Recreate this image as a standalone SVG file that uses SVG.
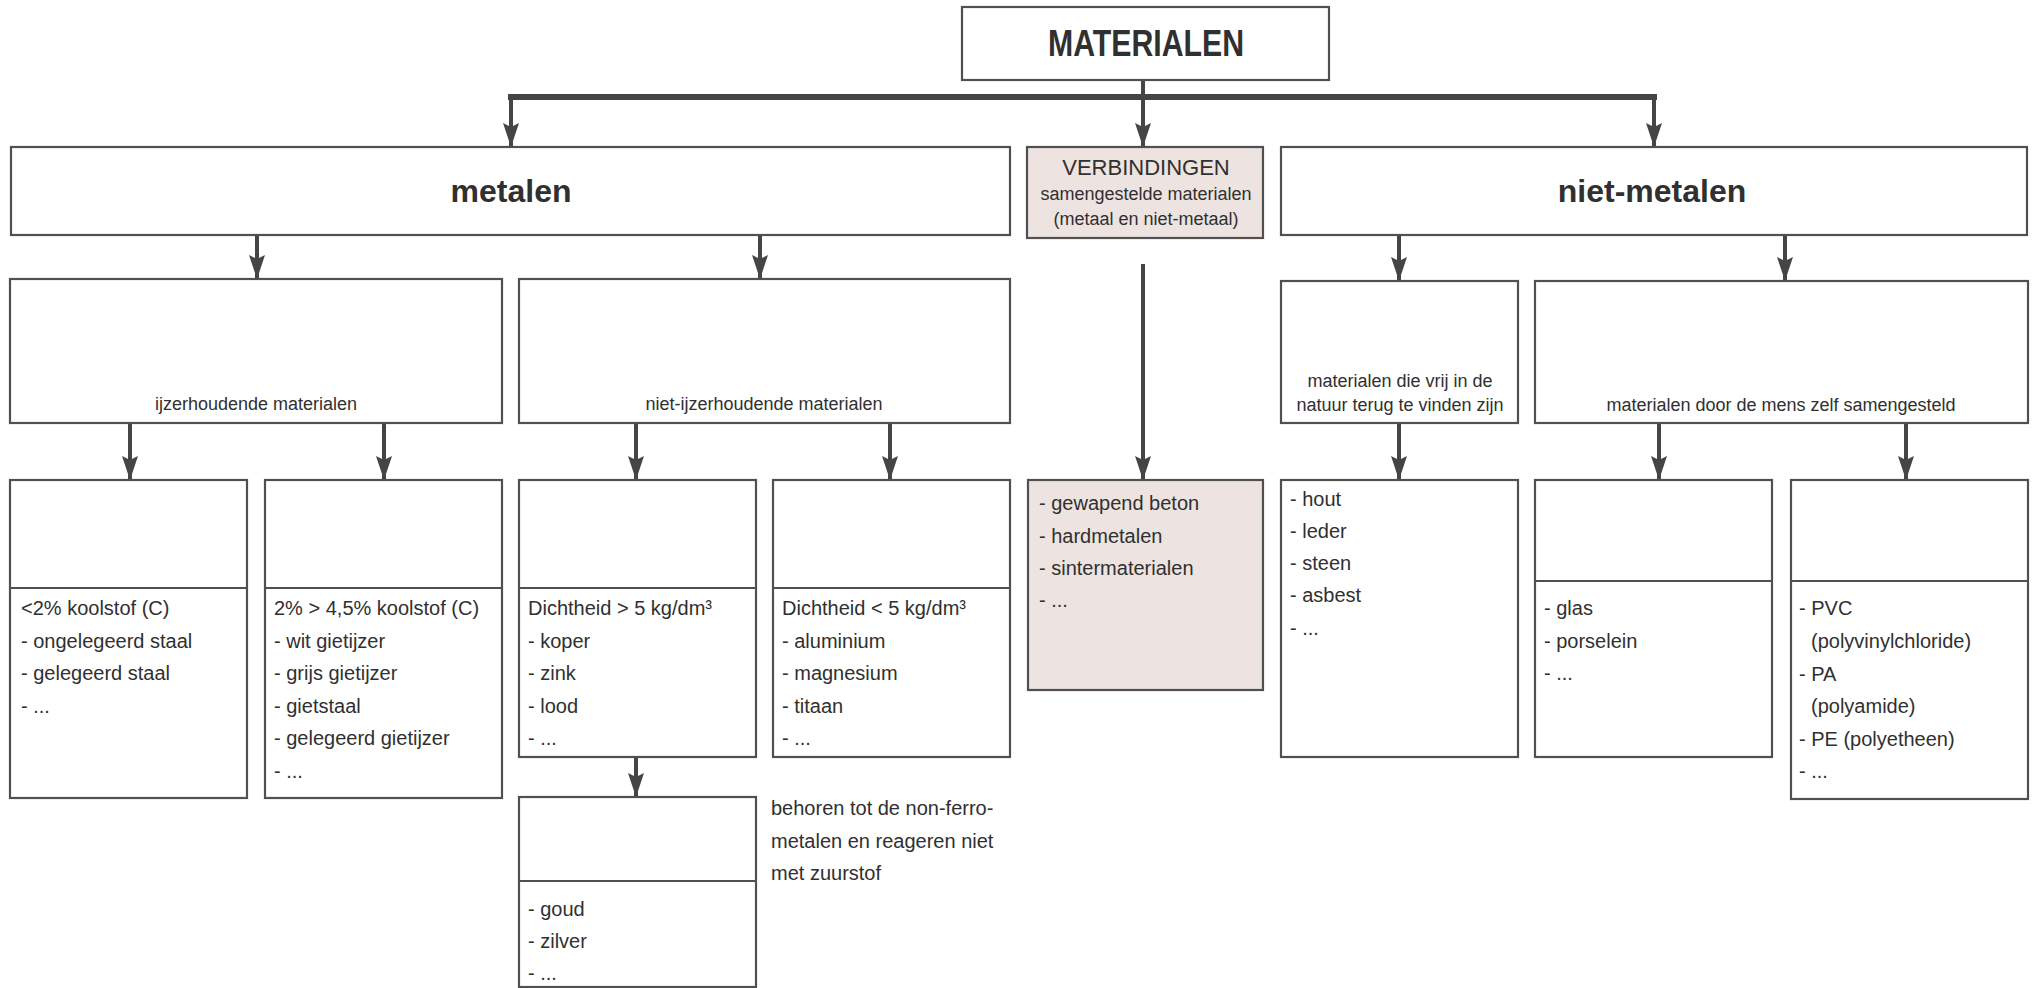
<svg xmlns="http://www.w3.org/2000/svg" width="2033" height="988" viewBox="0 0 2033 988">
<defs>
<style>
.bx{fill:#ffffff;stroke:#505050;stroke-width:2.2}
.pk{fill:#ede3e0;stroke:#505050;stroke-width:2.2}
.dv{stroke:#505050;stroke-width:2.2;fill:none}
.ln{stroke:#454545;stroke-width:4;fill:none}
.bar{stroke:#454545;stroke-width:6;fill:none}
text{font-family:"Liberation Sans",Arial,"DejaVu Sans",sans-serif;fill:#303030}
.t{font-size:20px}
.s{font-size:18px}
.h{font-size:32px;font-weight:bold;text-anchor:middle}
.c{text-anchor:middle}
</style>
<marker id="ah" viewBox="0 0 24 16" refX="24" refY="8" markerWidth="24" markerHeight="16" markerUnits="userSpaceOnUse" orient="auto">
<path d="M0,0 L24,8 L0,16 L4,8 Z" fill="#454545"/>
</marker>
</defs>
<rect width="2033" height="988" fill="#ffffff"/>

<g id="connectors">
<path class="bar" d="M508,97 H1657"/>
<path class="ln" d="M511,97 V147" marker-end="url(#ah)"/>
<path class="ln" d="M1654,97 V147" marker-end="url(#ah)"/>
<path class="ln" d="M1143,80 V147" marker-end="url(#ah)"/>
<path class="ln" d="M257,235 V279" marker-end="url(#ah)"/>
<path class="ln" d="M760,235 V279" marker-end="url(#ah)"/>
<path class="ln" d="M130,424 V480" marker-end="url(#ah)"/>
<path class="ln" d="M384,424 V480" marker-end="url(#ah)"/>
<path class="ln" d="M636,424 V480" marker-end="url(#ah)"/>
<path class="ln" d="M890,424 V480" marker-end="url(#ah)"/>
<path class="ln" d="M636,758 V797" marker-end="url(#ah)"/>
<path class="ln" d="M1143,264 V480" marker-end="url(#ah)"/>
<path class="ln" d="M1399,236 V281" marker-end="url(#ah)"/>
<path class="ln" d="M1785,236 V281" marker-end="url(#ah)"/>
<path class="ln" d="M1399,424 V480" marker-end="url(#ah)"/>
<path class="ln" d="M1659,424 V480" marker-end="url(#ah)"/>
<path class="ln" d="M1906,424 V480" marker-end="url(#ah)"/>
</g>

<g id="materialen">
<rect class="bx" x="962" y="7" width="367" height="73"/>
<text x="1146" y="56" font-size="37" font-weight="bold" text-anchor="middle" textLength="196" lengthAdjust="spacingAndGlyphs">MATERIALEN</text>
</g>

<g id="metalen">
<rect class="bx" x="11" y="147" width="999" height="88"/>
<text class="h" x="511" y="202">metalen</text>
</g>

<g id="verbindingen">
<rect class="pk" x="1027" y="147" width="236" height="91"/>
<text class="c" x="1146" y="175" font-size="22">VERBINDINGEN</text>
<text class="c s" x="1146" y="200">samengestelde materialen</text>
<text class="c s" x="1146" y="225">(metaal en niet-metaal)</text>
</g>

<g id="niet-metalen">
<rect class="bx" x="1281" y="147" width="746" height="88"/>
<text class="h" x="1652" y="202">niet-metalen</text>
</g>

<g id="ijzerhoudend">
<rect class="bx" x="10" y="279" width="492" height="144"/>
<text class="c s" x="256" y="410">ijzerhoudende materialen</text>
</g>

<g id="niet-ijzerhoudend">
<rect class="bx" x="519" y="279" width="491" height="144"/>
<text class="c s" x="764" y="410">niet-ijzerhoudende materialen</text>
</g>

<g id="natuur">
<rect class="bx" x="1281" y="281" width="237" height="142"/>
<text class="c s" x="1400" y="387">materialen die vrij in de</text>
<text class="c s" x="1400" y="411">natuur terug te vinden zijn</text>
</g>

<g id="mens">
<rect class="bx" x="1535" y="281" width="493" height="142"/>
<text class="c s" x="1781" y="411">materialen door de mens zelf samengesteld</text>
</g>

<g id="staal">
<rect class="bx" x="10" y="480" width="237" height="318"/>
<path class="dv" d="M10,588 H247"/>
<text class="t" x="21" y="615">&lt;2% koolstof (C)</text>
<text class="t" x="21" y="648">- ongelegeerd staal</text>
<text class="t" x="21" y="680">- gelegeerd staal</text>
<text class="t" x="21" y="713">- ...</text>
</g>

<g id="gietijzer">
<rect class="bx" x="265" y="480" width="237" height="318"/>
<path class="dv" d="M265,588 H502"/>
<text class="t" x="274" y="615">2% &gt; 4,5% koolstof (C)</text>
<text class="t" x="274" y="648">- wit gietijzer</text>
<text class="t" x="274" y="680">- grijs gietijzer</text>
<text class="t" x="274" y="713">- gietstaal</text>
<text class="t" x="274" y="745">- gelegeerd gietijzer</text>
<text class="t" x="274" y="778">- ...</text>
</g>

<g id="zwaar">
<rect class="bx" x="519" y="480" width="237" height="277"/>
<path class="dv" d="M519,588 H756"/>
<text class="t" x="528" y="615">Dichtheid &gt; 5 kg/dm³</text>
<text class="t" x="528" y="648">- koper</text>
<text class="t" x="528" y="680">- zink</text>
<text class="t" x="528" y="713">- lood</text>
<text class="t" x="528" y="745">- ...</text>
</g>

<g id="licht">
<rect class="bx" x="773" y="480" width="237" height="277"/>
<path class="dv" d="M773,588 H1010"/>
<text class="t" x="782" y="615">Dichtheid &lt; 5 kg/dm³</text>
<text class="t" x="782" y="648">- aluminium</text>
<text class="t" x="782" y="680">- magnesium</text>
<text class="t" x="782" y="713">- titaan</text>
<text class="t" x="782" y="745">- ...</text>
</g>

<g id="edel">
<rect class="bx" x="519" y="797" width="237" height="190"/>
<path class="dv" d="M519,881 H756"/>
<text class="t" x="528" y="916">- goud</text>
<text class="t" x="528" y="948">- zilver</text>
<text class="t" x="528" y="980">- ...</text>
<text class="t" x="771" y="815">behoren tot de non-ferro-</text>
<text class="t" x="771" y="848">metalen en reageren niet</text>
<text class="t" x="771" y="880">met zuurstof</text>
</g>

<g id="samengesteld">
<rect class="pk" x="1028" y="480" width="235" height="210"/>
<text class="t" x="1039" y="510">- gewapend beton</text>
<text class="t" x="1039" y="543">- hardmetalen</text>
<text class="t" x="1039" y="575">- sintermaterialen</text>
<text class="t" x="1039" y="607">- ...</text>
</g>

<g id="natuurlijk">
<rect class="bx" x="1281" y="480" width="237" height="277"/>
<text class="t" x="1290" y="506">- hout</text>
<text class="t" x="1290" y="538">- leder</text>
<text class="t" x="1290" y="570">- steen</text>
<text class="t" x="1290" y="602">- asbest</text>
<text class="t" x="1290" y="635">- ...</text>
</g>

<g id="keramisch">
<rect class="bx" x="1535" y="480" width="237" height="277"/>
<path class="dv" d="M1535,581 H1772"/>
<text class="t" x="1544" y="615">- glas</text>
<text class="t" x="1544" y="648">- porselein</text>
<text class="t" x="1544" y="680">- ...</text>
</g>

<g id="kunststof">
<rect class="bx" x="1791" y="480" width="237" height="319"/>
<path class="dv" d="M1791,581 H2028"/>
<text class="t" x="1799" y="615">- PVC</text>
<text class="t" x="1811" y="648">(polyvinylchloride)</text>
<text class="t" x="1799" y="681">- PA</text>
<text class="t" x="1811" y="713">(polyamide)</text>
<text class="t" x="1799" y="746">- PE (polyetheen)</text>
<text class="t" x="1799" y="778">- ...</text>
</g>
</svg>
